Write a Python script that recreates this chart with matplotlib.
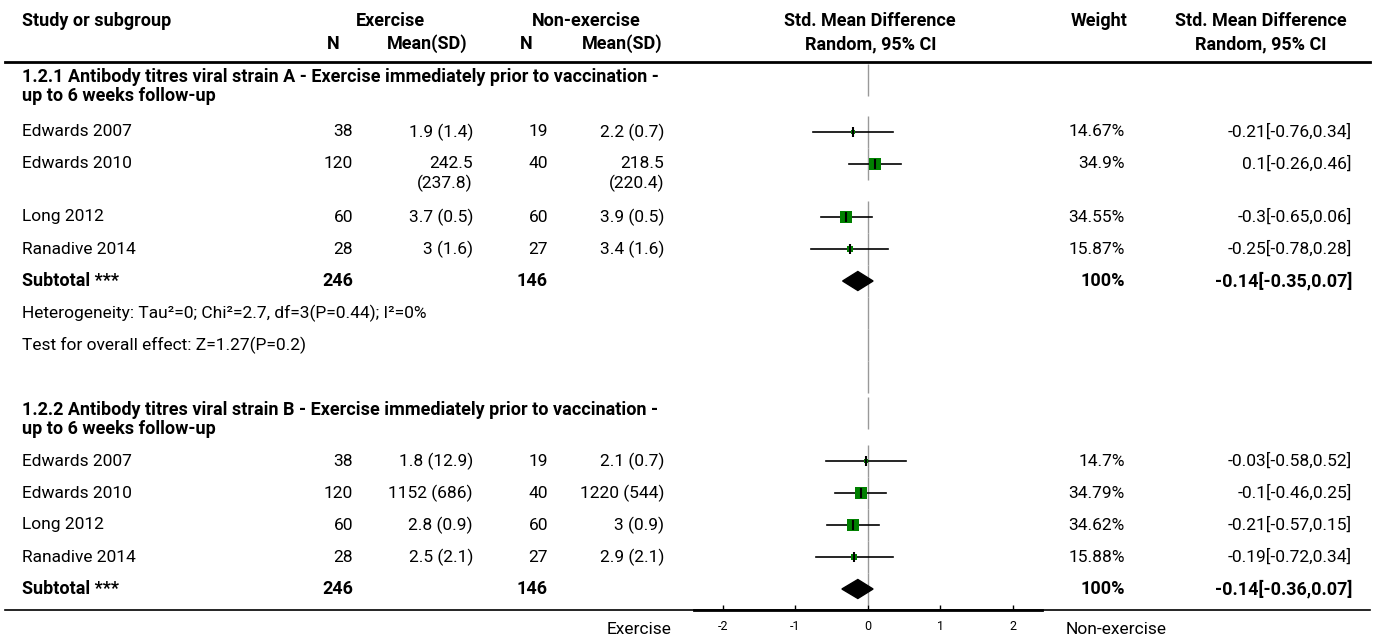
import matplotlib
matplotlib.use("Agg")
import matplotlib.pyplot as plt
from matplotlib.patches import Polygon

plt.rcParams['font.family'] = ['Roboto', 'DejaVu Sans']
plt.rcParams['axes.unicode_minus'] = False

# ---- data ----
studies = ["Edwards 2007", "Edwards 2010", "Long 2012", "Ranadive 2014"]

a_heading = ["1.2.1 Antibody titres viral strain A - Exercise immediately prior to vaccination -",
             "up to 6 weeks follow-up"]
a_ex_n = [38, 120, 60, 28]
a_ex_msd = ["1.9 (1.4)", "242.5\n(237.8)", "3.7 (0.5)", "3 (1.6)"]
a_ne_n = [19, 40, 60, 27]
a_ne_msd = ["2.2 (0.7)", "218.5\n(220.4)", "3.9 (0.5)", "3.4 (1.6)"]
a_weight = [14.67, 34.9, 34.55, 15.87]
a_smd = [-0.21, 0.1, -0.3, -0.25]
a_lo = [-0.76, -0.26, -0.65, -0.78]
a_hi = [0.34, 0.46, 0.06, 0.28]
a_total = [246, 146, 100, -0.14, -0.35, 0.07]   # N ex, N non-ex, weight, smd, lo, hi
a_het = "Heterogeneity: Tau\u00b2=0; Chi\u00b2=2.7, df=3(P=0.44); I\u00b2=0%"
a_test = "Test for overall effect: Z=1.27(P=0.2)"

b_heading = ["1.2.2 Antibody titres viral strain B - Exercise immediately prior to vaccination -",
             "up to 6 weeks follow-up"]
b_ex_n = [38, 120, 60, 28]
b_ex_msd = ["1.8 (12.9)", "1152 (686)", "2.8 (0.9)", "2.5 (2.1)"]
b_ne_n = [19, 40, 60, 27]
b_ne_msd = ["2.1 (0.7)", "1220 (544)", "3 (0.9)", "2.9 (2.1)"]
b_weight = [14.7, 34.79, 34.62, 15.88]
b_smd = [-0.03, -0.1, -0.21, -0.19]
b_lo = [-0.58, -0.46, -0.57, -0.72]
b_hi = [0.52, 0.25, 0.15, 0.34]
b_total = [246, 146, 100, -0.14, -0.36, 0.07]

ticks = [-2, -1, 0, 1, 2]

# ---- layout (pixels) ----
W, H = 1375, 639
FS = 12.5
FSB = 13
GREEN = "#008000"

fig = plt.figure(figsize=(W / 100, H / 100), dpi=100)
ax = fig.add_axes([0, 0, 1, 1])
ax.set_xlim(0, W)
ax.set_ylim(H, 0)
ax.axis("off")

# forest panel: x from -2.4..2.4 on pixels 694..1042, y in pixels down to the axis at 610
fx0, fx1, fy = 694, 1042, 610
fax = fig.add_axes([fx0 / W, (H - fy) / H, (fx1 - fx0) / W, fy / H])
fax.set_xlim(-2.4, 2.4)
fax.set_ylim(fy, 0)
fax.patch.set_alpha(0)
for s in ["top", "left", "right"]:
    fax.spines[s].set_visible(False)
fax.spines["bottom"].set_linewidth(2)
fax.set_yticks([])
fax.set_xticks(ticks)
fax.tick_params(axis="x", direction="in", length=3.6, width=1, pad=7, labelsize=9)

col_name = 22
col_exn, col_exm, col_nen, col_nem = 353, 473, 548, 664
col_w, col_ci = 1125, 1352


def txt(x, y, s, ha="left", bold=False, **kw):
    ax.text(x, y, s, ha=ha, va="center", fontsize=FSB if bold else FS,
            fontweight="semibold" if bold else "normal", **kw)


# header
txt(col_name, 21, "Study or subgroup", bold=True)
txt(390, 21, "Exercise", ha="center", bold=True)
txt(586, 21, "Non-exercise", ha="center", bold=True)
txt(870, 21, "Std. Mean Difference", ha="center", bold=True)
txt(1099, 21, "Weight", ha="center", bold=True)
txt(1261, 21, "Std. Mean Difference", ha="center", bold=True)
txt(333, 44, "N", ha="center", bold=True)
txt(427, 44, "Mean(SD)", ha="center", bold=True)
txt(526, 44, "N", ha="center", bold=True)
txt(622, 44, "Mean(SD)", ha="center", bold=True)
txt(871, 44, "Random, 95% CI", ha="center", bold=True)
txt(1261, 44, "Random, 95% CI", ha="center", bold=True)
ax.plot([5, 1370], [62, 62], color="black", lw=2)
ax.plot([5, 1370], [fy, fy], color="black", lw=1.2)

seg_centres = []


def group(top, heading, ex_n, ex_msd, ne_n, ne_msd, weight, smd, lo, hi, total, rows_y, foot=None):
    txt(col_name, top, heading[0], bold=True)
    txt(col_name, top + 19, heading[1], bold=True)
    seg_centres.append(top + 3)
    for i, y in enumerate(rows_y):
        txt(col_name, y, studies[i])
        txt(col_exn, y, str(ex_n[i]), ha="right")
        txt(col_nen, y, str(ne_n[i]), ha="right")
        for col, s in [(col_exm, ex_msd[i]), (col_nem, ne_msd[i])]:
            parts = s.split("\n")
            for k, p in enumerate(parts):
                txt(col, y + 19 * k, p, ha="right")
        txt(col_w, y, f"{weight[i]:g}%", ha="right")
        txt(col_ci, y, f"{smd[i]:g}[{lo[i]:g},{hi[i]:g}]", ha="right")
        seg_centres.append(y)
        # CI line, square sized by weight, tick at the estimate
        fax.plot([lo[i], hi[i]], [y, y], color="black", lw=1.2, zorder=2)
        side = weight[i] / 34.9 * 11.5 * 0.72
        fax.scatter([smd[i]], [y], marker="s", s=side ** 2, color=GREEN, lw=0, zorder=3)
        fax.plot([smd[i]], [y], marker="|", ms=6.5, mew=1.5, color="black", zorder=4)
    ys = rows_y[-1] + 32
    txt(col_name, ys, "Subtotal ***", bold=True)
    txt(col_exn, ys, str(total[0]), ha="right", bold=True)
    txt(col_nen, ys, str(total[1]), ha="right", bold=True)
    txt(col_w, ys, f"{total[2]:g}%", ha="right", bold=True)
    txt(col_ci, ys, f"{total[3]:g}[{total[4]:g},{total[5]:g}]", ha="right", bold=True)
    seg_centres.append(ys)
    fax.add_patch(Polygon([(total[4], ys), (total[3], ys - 9.5), (total[5], ys), (total[3], ys + 9.5)],
                          closed=True, color="black", zorder=3))
    if foot:
        for k, s in enumerate(foot):
            txt(col_name, ys + 32 * (k + 1), s)
            seg_centres.append(ys + 32 * (k + 1))
        seg_centres.append(ys + 32 * (len(foot) + 1))


group(77, a_heading, a_ex_n, a_ex_msd, a_ne_n, a_ne_msd, a_weight, a_smd, a_lo, a_hi,
      a_total, [132, 164, 217, 249], foot=[a_het, a_test])
group(410, b_heading, b_ex_n, b_ex_msd, b_ne_n, b_ne_msd, b_weight, b_smd, b_lo, b_hi,
      b_total, [461, 493, 525, 557])

# zero line drawn in row pieces
fax.vlines([0] * len(seg_centres), [c - 15.6 for c in seg_centres], [c + 15.6 for c in seg_centres],
           color="#999999", lw=1, zorder=1)

txt(672, 629, "Exercise", ha="right")
txt(1066, 629, "Non-exercise", ha="left")

fig.savefig("out.png", dpi=100)
